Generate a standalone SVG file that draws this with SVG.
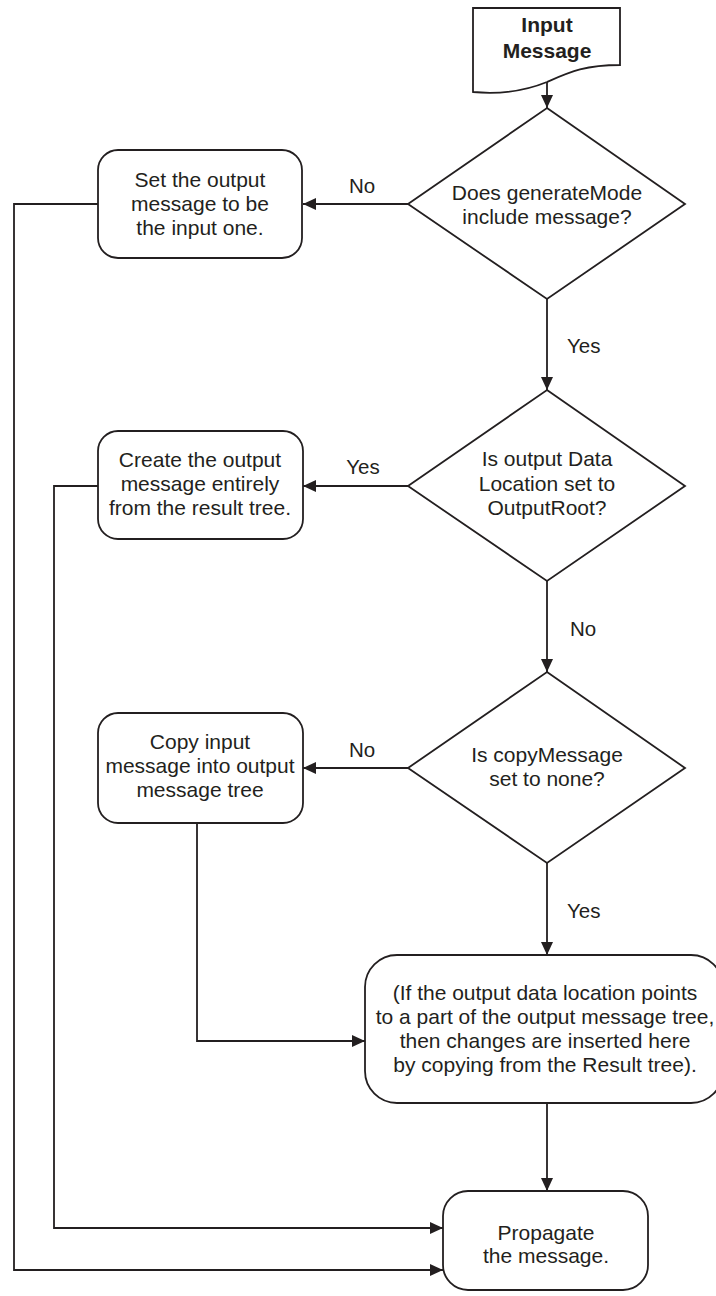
<svg xmlns="http://www.w3.org/2000/svg" width="716" height="1296" viewBox="0 0 716 1296">
<style>
  .shape { fill: #ffffff; stroke: #231f20; stroke-width: 1.8; }
  .conn { fill: none; stroke: #231f20; stroke-width: 1.8; }
  .t { font-family: "Liberation Sans", Arial, sans-serif; font-size: 21px; fill: #231f20; text-anchor: middle; }
  .b { font-weight: bold; }
  .lbl { font-family: "Liberation Sans", Arial, sans-serif; font-size: 20.5px; fill: #231f20; }
</style>
<defs>
  <marker id="arrow" markerUnits="userSpaceOnUse" markerWidth="14" markerHeight="13" refX="13" refY="6" orient="auto">
    <path d="M0,0 L13,6 L0,12 z" fill="#231f20"/>
  </marker>
</defs>
<rect width="716" height="1296" fill="#ffffff"/>

<g id="connectors">
  <path class="conn" d="M547,82 V108" marker-end="url(#arrow)"/>
  <path class="conn" d="M408,204 H303" marker-end="url(#arrow)"/>
  <path class="conn" d="M547,299 V390" marker-end="url(#arrow)"/>
  <path class="conn" d="M408,486 H303" marker-end="url(#arrow)"/>
  <path class="conn" d="M547,581 V672" marker-end="url(#arrow)"/>
  <path class="conn" d="M408,768 H303" marker-end="url(#arrow)"/>
  <path class="conn" d="M547,863 V955" marker-end="url(#arrow)"/>
  <path class="conn" d="M197,823 V1041 H365" marker-end="url(#arrow)"/>
  <path class="conn" d="M547,1103 V1191" marker-end="url(#arrow)"/>
  <path class="conn" d="M98,486 H54 V1228 H443" marker-end="url(#arrow)"/>
  <path class="conn" d="M98,204 H14 V1270 H443" marker-end="url(#arrow)"/>
  <text class="lbl" x="362" y="193" text-anchor="middle">No</text>
  <text class="lbl" x="567" y="353">Yes</text>
  <text class="lbl" x="363" y="474" text-anchor="middle">Yes</text>
  <text class="lbl" x="570" y="636">No</text>
  <text class="lbl" x="362" y="757" text-anchor="middle">No</text>
  <text class="lbl" x="567" y="918">Yes</text>
</g>

<g id="input-message">
  <path class="shape" d="M473,8 H620 V65 C585,65 570,72 547,82 C520,93 495,94 473,92 Z"/>
  <text class="t b" x="547" y="32">Input</text>
  <text class="t b" x="547" y="58">Message</text>
</g>

<g id="decision-generate-mode">
  <polygon class="shape" points="547,108 685,204 547,299 408,204"/>
  <text class="t" x="547" y="200">Does generateMode</text>
  <text class="t" x="547" y="224">include message?</text>
</g>

<g id="set-output-input">
  <rect class="shape" x="98" y="150" width="204" height="108" rx="20" ry="20"/>
  <text class="t" x="200" y="187">Set the output</text>
  <text class="t" x="200" y="211">message to be</text>
  <text class="t" x="200" y="235">the input one.</text>
</g>

<g id="decision-output-root">
  <polygon class="shape" points="547,390 685,486 547,581 408,486"/>
  <text class="t" x="547" y="466">Is output Data</text>
  <text class="t" x="547" y="491">Location set to</text>
  <text class="t" x="547" y="515">OutputRoot?</text>
</g>

<g id="create-from-result">
  <rect class="shape" x="98" y="431" width="205" height="108" rx="20" ry="20"/>
  <text class="t" x="200" y="467">Create the output</text>
  <text class="t" x="200" y="491">message entirely</text>
  <text class="t" x="200" y="515">from the result tree.</text>
</g>

<g id="decision-copy-message">
  <polygon class="shape" points="547,672 685,768 547,863 408,768"/>
  <text class="t" x="547" y="762">Is copyMessage</text>
  <text class="t" x="547" y="786">set to none?</text>
</g>

<g id="copy-input">
  <rect class="shape" x="98" y="713" width="205" height="110" rx="20" ry="20"/>
  <text class="t" x="200" y="749">Copy input</text>
  <text class="t" x="200" y="773">message into output</text>
  <text class="t" x="200" y="797">message tree</text>
</g>

<g id="insert-changes">
  <rect class="shape" x="365" y="955" width="358" height="148" rx="32" ry="32"/>
  <text class="t" x="545" y="1000">(If the output data location points</text>
  <text class="t" x="545" y="1024">to a part of the output message tree,</text>
  <text class="t" x="545" y="1048">then changes are inserted here</text>
  <text class="t" x="545" y="1072">by copying from the Result tree).</text>
</g>

<g id="propagate">
  <rect class="shape" x="443" y="1191" width="205" height="99" rx="25" ry="25"/>
  <text class="t" x="546" y="1240">Propagate</text>
  <text class="t" x="546" y="1263">the message.</text>
</g>
</svg>
